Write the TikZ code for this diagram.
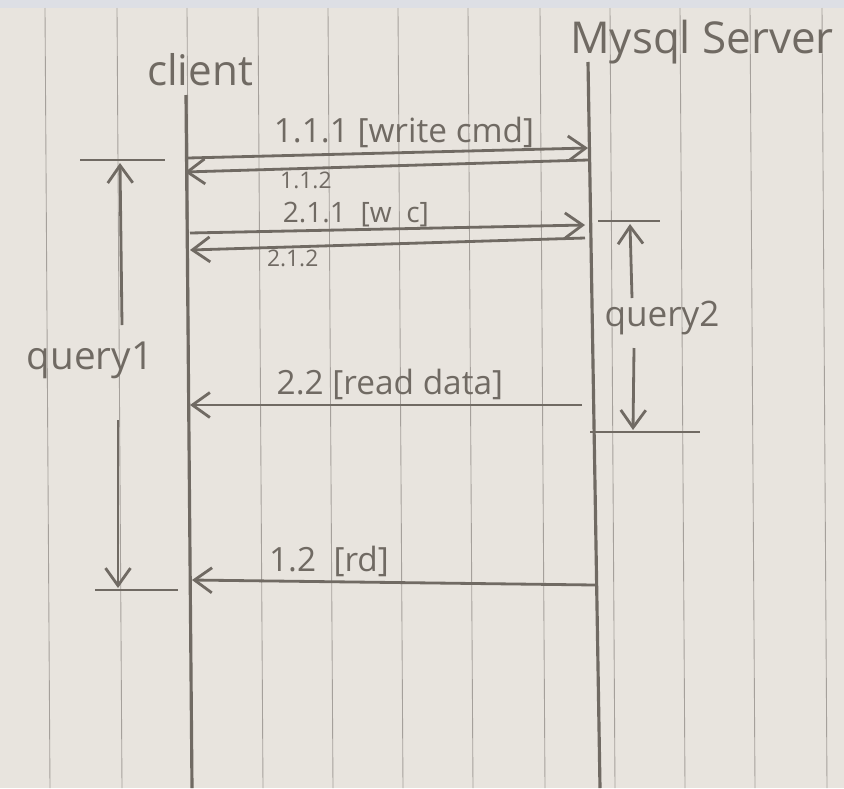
\documentclass[tikz,border=0pt]{standalone}
\usepackage{fontspec}
\setmainfont{Open Sans}
\usetikzlibrary{arrows.meta}
\definecolor{paper}{RGB}{232,228,222}
\definecolor{topband}{RGB}{221,223,229}
\definecolor{pencil}{RGB}{112,106,99}
\definecolor{ruling}{RGB}{165,160,155}
\begin{document}
\begin{tikzpicture}[x=0.02cm,y=-0.02cm,
  msg/.style={pencil,line width=1.6pt,-{Straight Barb[length=3.5mm,width=5mm,line width=1.6pt]}},
  lifeline/.style={pencil,line width=1.8pt},
  limit/.style={pencil,line width=1.6pt},
  lbl/.style={text=pencil,inner sep=2pt,font=\fontsize{19}{19}\selectfont},
  small/.style={text=pencil,inner sep=1pt,font=\fontsize{13}{13}\selectfont},
  actor/.style={text=pencil,inner sep=0pt,font=\fontsize{24}{24}\selectfont}]
\useasboundingbox (0,0) rectangle (844,788);
\fill[paper] (0,0) rectangle (844,788);
\fill[topband] (0,0) rectangle (844,8);
\foreach \x in {45,117,187,258,328,398,468,540,610,680,750,822} {
  \draw[ruling,line width=0.5pt] (\x,8) -- (\x+5,788);
}
\node[actor] (client) at (200,70) {client};
\node[actor,font=\fontsize{25}{25}\selectfont] (server) at (702,42) {Mysql Server};
\coordinate (c0) at (186,95);
\coordinate (c1) at (192,788);
\coordinate (s0) at (588,62);
\coordinate (s1) at (600,788);
\draw[lifeline] (c0) -- (c1);
\draw[lifeline] (s0) -- (s1);
\coordinate (m1c) at (188,158); \coordinate (m1s) at (588,148);
\coordinate (m2s) at (588,160); \coordinate (m2c) at (185,172);
\coordinate (m3c) at (190,233); \coordinate (m3s) at (585,225);
\coordinate (m4s) at (585,238); \coordinate (m4c) at (190,250);
\coordinate (m5s) at (582,405); \coordinate (m5c) at (190,405);
\coordinate (m6s) at (595,585); \coordinate (m6c) at (192,580);
\draw[msg] (m1c) -- node[lbl,above,pos=0.54] (l111) {1.1.1 [write cmd]} (m1s);
\draw[msg] (m2s) -- node[small,below,pos=0.70] (l112) {1.1.2} (m2c);
\draw[msg] (m3c) -- node[lbl,above,pos=0.42,inner sep=1pt,font=\fontsize{16}{16}\selectfont] (l211) {2.1.1\ \ [w\ \ c]} (m3s);
\draw[msg] (m4s) -- node[small,below,pos=0.74] (l212) {2.1.2} (m4c);
\draw[msg] (m5s) -- node[lbl,above,pos=0.49] (l22) {2.2 [read data]} (m5c);
\draw[msg] (m6s) -- node[lbl,above,pos=0.66] (l12) {1.2\ \ [rd]} (m6c);
\draw[limit] (80,160) -- (165,160);
\draw[limit] (95,590) -- (178,590);
\node[actor,font=\fontsize{22}{22}\selectfont] (q1) at (90,360) {query1};
\coordinate (q1a) at (122,325); \coordinate (q1top) at (120,163);
\coordinate (q1b) at (118,420); \coordinate (q1bot) at (118,588);
\draw[msg] (q1a) -- (q1top);
\draw[msg] (q1b) -- (q1bot);
\draw[limit] (598,221) -- (660,221);
\draw[limit] (590,432) -- (700,432);
\node[actor,font=\fontsize{20}{20}\selectfont] (q2) at (662,318) {query2};
\coordinate (q2a) at (632,298); \coordinate (q2top) at (630,224);
\coordinate (q2b) at (634,348); \coordinate (q2bot) at (633,430);
\draw[msg] (q2a) -- (q2top);
\draw[msg] (q2b) -- (q2bot);
\end{tikzpicture}
\end{document}
